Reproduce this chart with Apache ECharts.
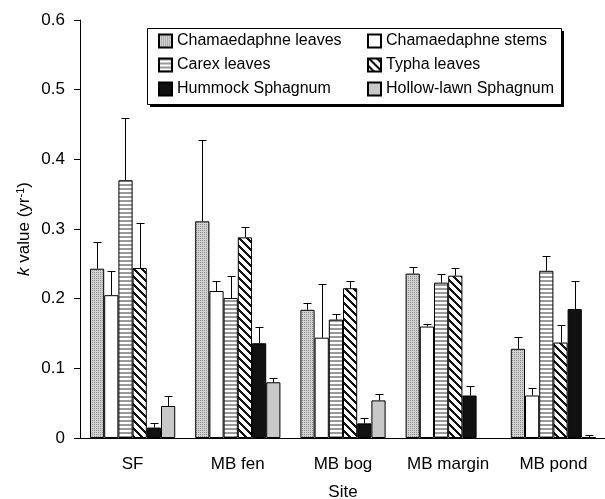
<!DOCTYPE html>
<html>
<head>
<meta charset="utf-8">
<script src="https://cdn.jsdelivr.net/npm/echarts@6/dist/echarts.min.js"></script>
<style>
  html, body { margin: 0; padding: 0; background: #fff; }
  #main { width: 605px; height: 499px; }
</style>
</head>
<body>
<div id="main"></div>
<script>
// sites on the x axis
const sites = ['SF', 'MB fen', 'MB bog', 'MB margin', 'MB pond'];
const yTicks = [0, 0.1, 0.2, 0.3, 0.4, 0.5, 0.6];

// mean k values
const chamLeaves = [0.243, 0.311, 0.184, 0.236, 0.128];
const chamStems = [0.205, 0.211, 0.144, 0.160, 0.061];
const carexLeaves = [0.370, 0.201, 0.170, 0.223, 0.240];
const typhaLeaves = [0.244, 0.288, 0.215, 0.233, 0.137];
const hummock = [0.015, 0.136, 0.021, 0.061, 0.185];
const hollowLawn = [0.046, 0.080, 0.054, null, 0.001];

// upper error bar lengths
const chamLeavesErr = [0.039, 0.117, 0.010, 0.010, 0.017];
const chamStemsErr = [0.034, 0.015, 0.077, 0.004, 0.011];
const carexLeavesErr = [0.089, 0.032, 0.008, 0.012, 0.021];
const typhaLeavesErr = [0.065, 0.015, 0.010, 0.011, 0.025];
const hummockErr = [0.007, 0.024, 0.007, 0.014, 0.040];
const hollowLawnErr = [0.014, 0.006, 0.009, null, 0.004];

const FONT = '"Liberation Sans", Arial, sans-serif';
const CAT_GAP = 0.19;

// small canvas tiles used as fill patterns
function tile(w, h, draw) {
  const c = document.createElement('canvas');
  c.width = w; c.height = h;
  draw(c.getContext('2d'));
  return c;
}
const dotted = tile(2, 2, ctx => {
  ctx.fillStyle = '#d2d2d2'; ctx.fillRect(0, 0, 2, 2);
  ctx.fillStyle = '#8c8c8c'; ctx.fillRect(0, 0, 1, 1);
});
const hstripe = tile(4, 4, ctx => {
  ctx.fillStyle = '#fff'; ctx.fillRect(0, 0, 4, 4);
  ctx.fillStyle = '#999'; ctx.fillRect(0, 0, 4, 2);
});
const diag = tile(8, 8, ctx => {
  ctx.fillStyle = '#fff'; ctx.fillRect(0, 0, 8, 8);
  ctx.fillStyle = '#111';
  for (let y = 0; y < 8; y++) {
    for (let x = 0; x < 8; x++) {
      if (((x - y + 8) % 8) < 3) ctx.fillRect(x, y, 1, 1);
    }
  }
});

const seriesDefs = [
  { name: 'Chamaedaphne leaves', data: chamLeaves, err: chamLeavesErr, fill: { image: dotted, repeat: 'repeat' } },
  { name: 'Chamaedaphne stems', data: chamStems, err: chamStemsErr, fill: '#fff' },
  { name: 'Carex leaves', data: carexLeaves, err: carexLeavesErr, fill: { image: hstripe, repeat: 'repeat' } },
  { name: 'Typha leaves', data: typhaLeaves, err: typhaLeavesErr, fill: { image: diag, repeat: 'repeat' } },
  { name: 'Hummock Sphagnum', data: hummock, err: hummockErr, fill: '#111' },
  { name: 'Hollow-lawn Sphagnum', data: hollowLawn, err: hollowLawnErr, fill: '#c8c8c8' }
];
const nSeries = seriesDefs.length;

// error bar rows: [site index, series index, value, error]
const errRows = [];
seriesDefs.forEach((s, si) => {
  s.data.forEach((v, ci) => {
    if (v != null && s.err[ci] != null) errRows.push([ci, si, v, s.err[ci]]);
  });
});

function renderErr(params, api) {
  const ci = api.value(0), si = api.value(1), v = api.value(2), e = api.value(3);
  const base = api.coord([ci, v]);
  const top = api.coord([ci, v + e]);
  const band = api.size([1, 0])[0];
  const groupW = band * (1 - CAT_GAP);
  const bw = groupW / nSeries;
  const x = Math.round(base[0] - groupW / 2 + (si + 0.5) * bw) + 0.5;
  const yTop = Math.round(top[1]) + 0.5;
  const st = { stroke: '#000', lineWidth: 1 };
  return {
    type: 'group',
    children: [
      { type: 'line', shape: { x1: x, y1: base[1], x2: x, y2: yTop }, style: st },
      { type: 'line', shape: { x1: x - 4, y1: yTop, x2: x + 4, y2: yTop }, style: st }
    ]
  };
}

const chart = echarts.init(document.getElementById('main'));

const legendCommon = {
  orient: 'vertical',
  top: 33,
  padding: 0,
  itemWidth: 13,
  itemHeight: 13,
  itemGap: 8,
  icon: 'rect',
  selectedMode: false,
  textStyle: { fontFamily: FONT, fontSize: 16, color: '#000' }
};

chart.setOption({
  animation: false,
  backgroundColor: '#fff',
  textStyle: { fontFamily: FONT },
  graphic: [
    { type: 'rect', shape: { x: 150, y: 31, width: 414, height: 76 }, style: { fill: '#000' }, z: 5 },
    { type: 'rect', shape: { x: 147.5, y: 28.5, width: 414, height: 76 }, style: { fill: '#fff', stroke: '#000', lineWidth: 1 }, z: 6 }
  ],
  legend: [
    Object.assign({}, legendCommon, { left: 158, data: ['Chamaedaphne leaves', 'Carex leaves', 'Hummock Sphagnum'], z: 10 }),
    Object.assign({}, legendCommon, { left: 367, data: ['Chamaedaphne stems', 'Typha leaves', 'Hollow-lawn Sphagnum'], z: 10 })
  ],
  grid: { left: 80, top: 20, width: 526, height: 418, outerBoundsMode: 'none', containLabel: false },
  xAxis: {
    type: 'category',
    data: sites,
    name: 'Site',
    nameLocation: 'middle',
    nameGap: 46,
    nameMoveOverlap: false,
    nameTextStyle: { fontFamily: FONT, fontSize: 17, color: '#000' },
    axisLine: { lineStyle: { color: '#000', width: 1 } },
    axisTick: { show: false },
    axisLabel: { interval: 0, margin: 18, fontFamily: FONT, fontSize: 17, color: '#000' }
  },
  yAxis: {
    type: 'value',
    min: yTicks[0],
    max: yTicks[yTicks.length - 1],
    interval: 0.1,
    name: '{i|k} value (yr{s|-1})',
    nameLocation: 'middle',
    nameGap: 46,
    nameMoveOverlap: false,
    nameRotate: 90,
    nameTextStyle: {
      fontFamily: FONT, fontSize: 17, color: '#000',
      rich: {
        i: { fontFamily: FONT, fontSize: 17, fontStyle: 'italic', color: '#000' },
        s: { fontFamily: FONT, fontSize: 11, color: '#000', verticalAlign: 'top', padding: [0, 0, 8, 0] }
      }
    },
    splitLine: { show: false },
    axisLine: { show: true, lineStyle: { color: '#000', width: 1 } },
    axisTick: { show: true, inside: false, length: 6, lineStyle: { color: '#000' } },
    axisLabel: {
      margin: 15, fontFamily: FONT, fontSize: 17, color: '#000',
      formatter: v => String(Math.round(v * 10) / 10)
    }
  },
  series: seriesDefs.map(s => ({
    name: s.name,
    type: 'bar',
    data: s.data,
    barGap: '0%',
    barCategoryGap: (CAT_GAP * 100) + '%',
    itemStyle: { color: s.fill, borderColor: '#000', borderWidth: 1 }
  })).concat([{
    type: 'custom',
    name: 'errors',
    data: errRows,
    renderItem: renderErr,
    encode: { x: 0, y: 2 },
    z: 3,
    silent: true
  }])
});
</script>
</body>
</html>
